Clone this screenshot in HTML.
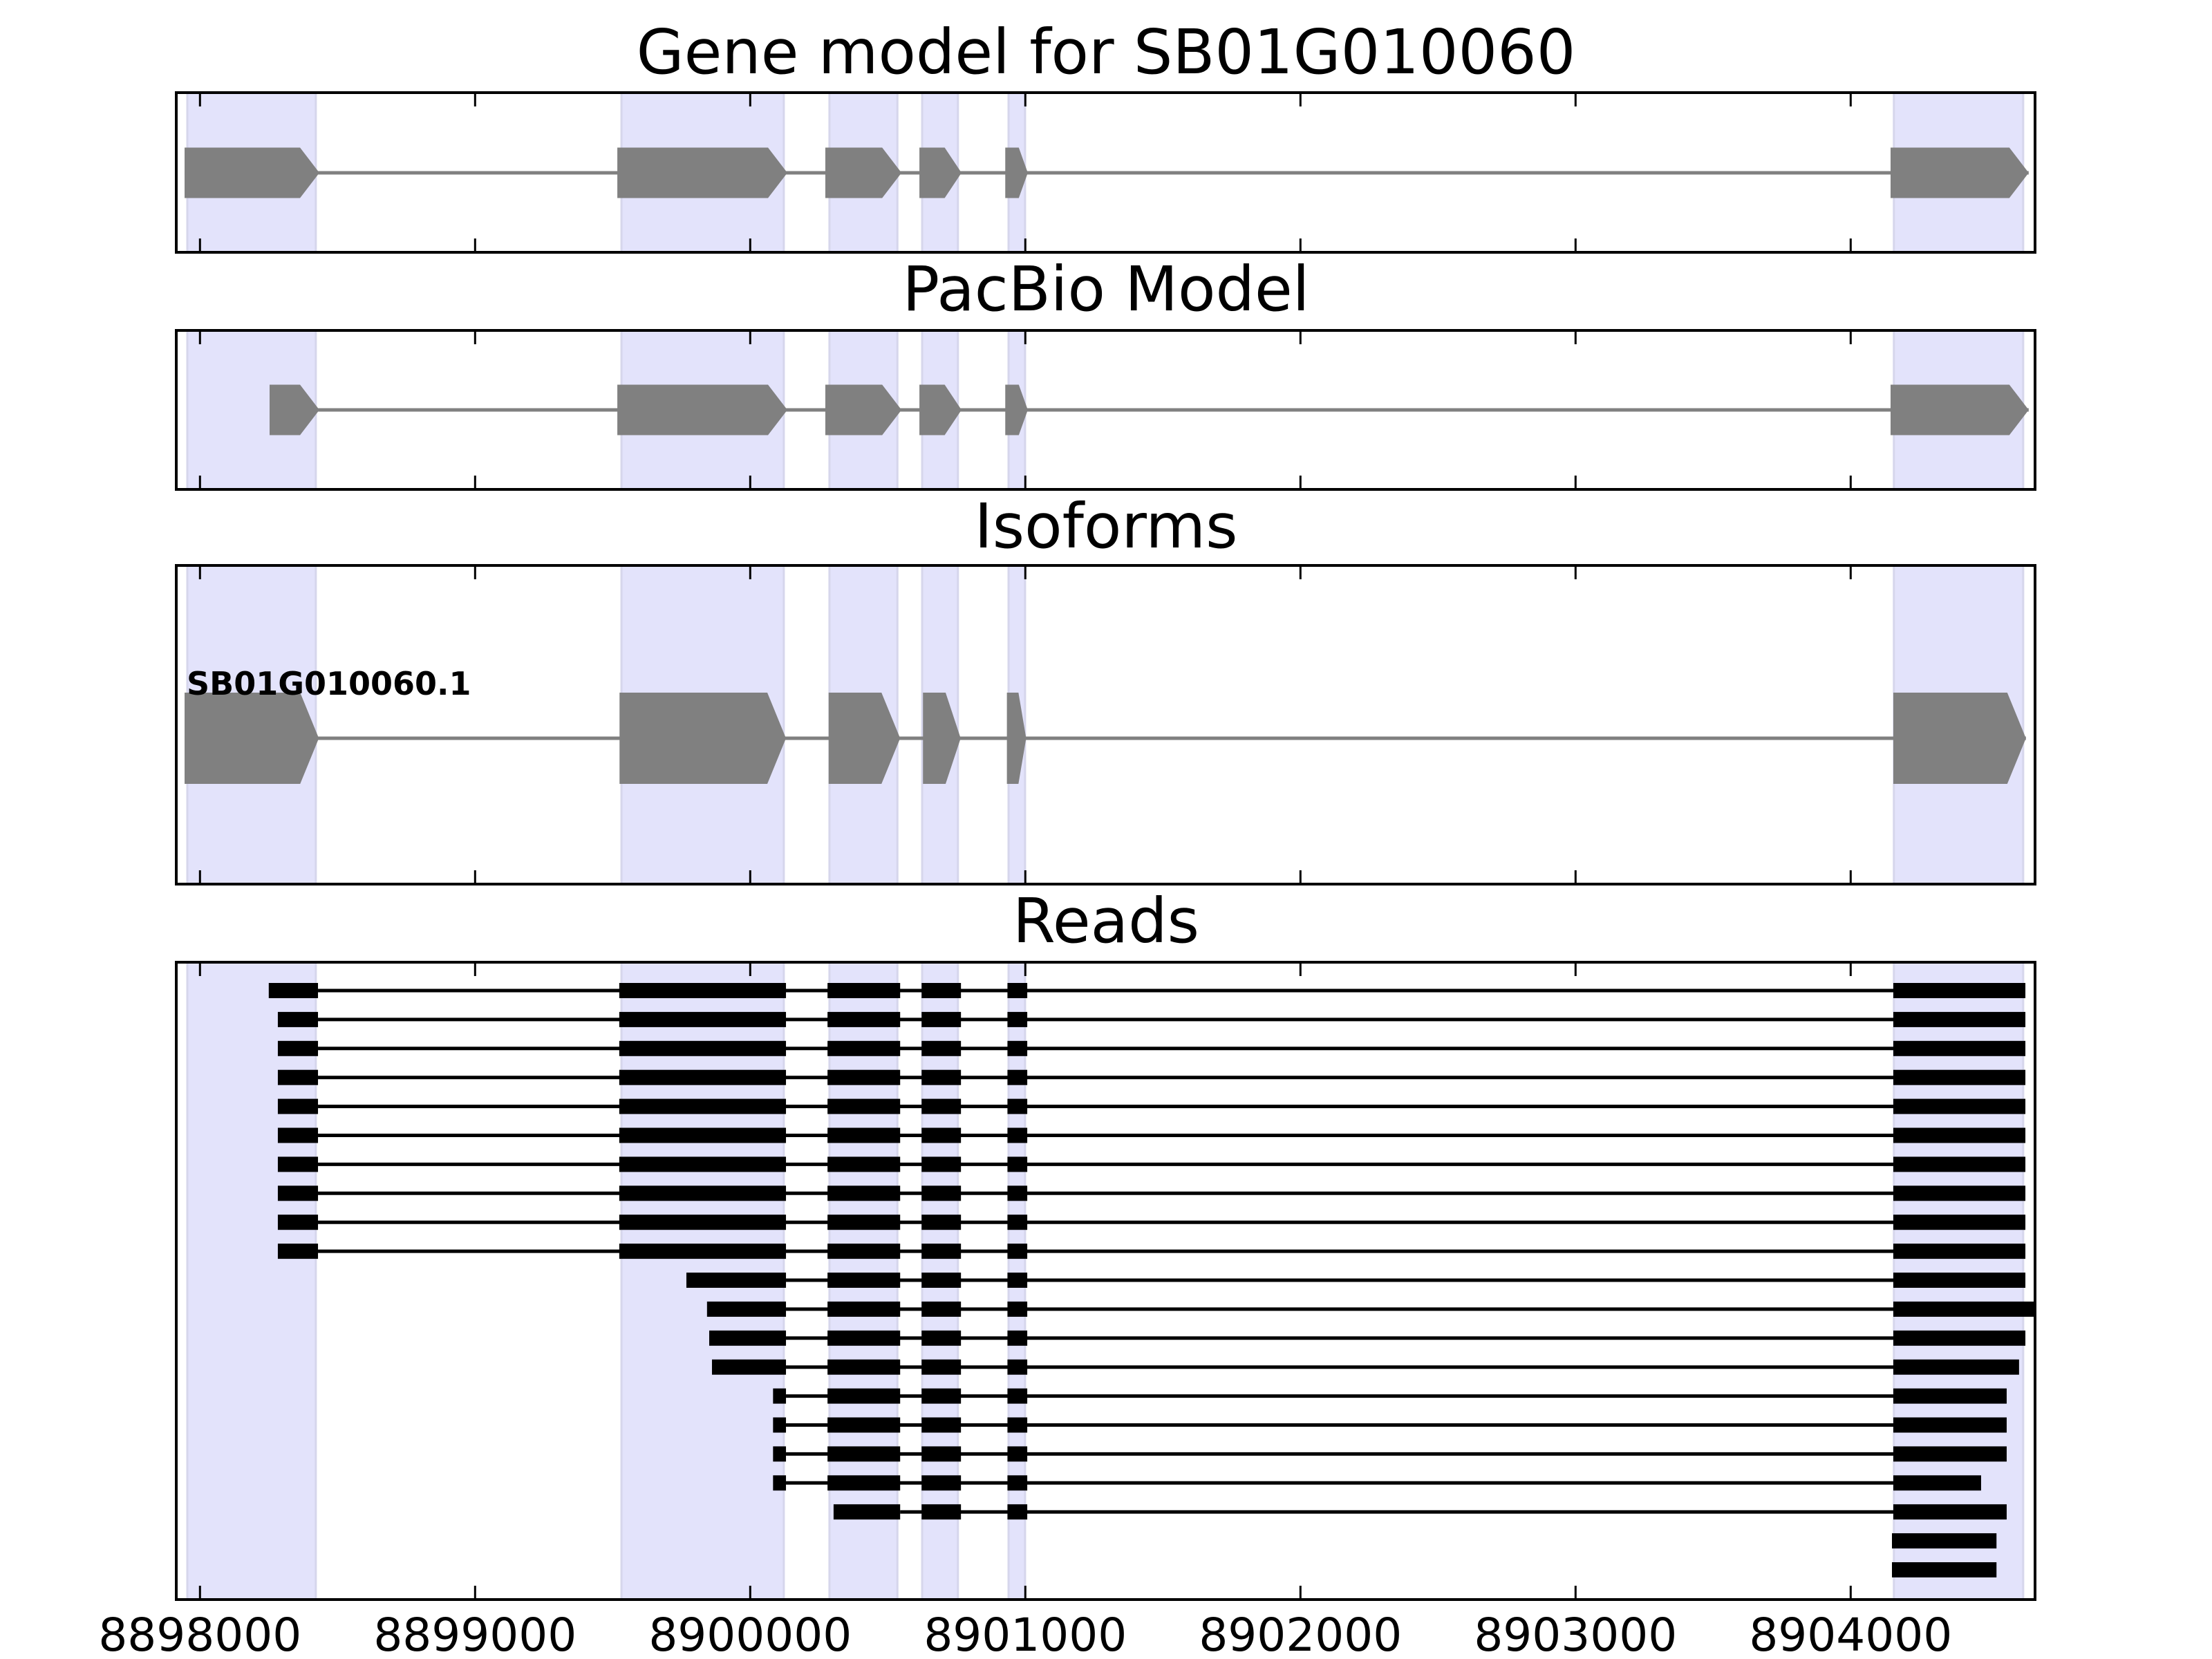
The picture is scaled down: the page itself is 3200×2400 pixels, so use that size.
<!DOCTYPE html>
<html><head><meta charset="utf-8">
<style>
html,body{margin:0;padding:0;background:#fff;}
svg{display:block;}
text{font-family:"DejaVu Sans","Liberation Sans",sans-serif;}
</style></head>
<body>
<svg id="fig" width="3200" height="2400" viewBox="0 0 3200 2400" xmlns="http://www.w3.org/2000/svg"></svg>
<script>
// ---- data ----
const tickValues = [8898000, 8899000, 8900000, 8901000, 8902000, 8903000, 8904000];
const tickLabels = ["8898000", "8899000", "8900000", "8901000", "8902000", "8903000", "8904000"];
const shadeStarts = [8897954, 8899532, 8900288, 8900625, 8900939, 8904157];
const shadeEnds   = [8898421, 8900122, 8900535, 8900755, 8900999, 8904627];
const geneExonStarts = [8897944, 8899517, 8900273, 8900615, 8900927, 8904145];
const geneExonEnds   = [8898434, 8900135, 8900550, 8900768, 8901009, 8904647];
const pacbioExonStarts = [8898253, 8899517, 8900273, 8900615, 8900927, 8904145];
const pacbioExonEnds   = [8898434, 8900135, 8900550, 8900768, 8901009, 8904647];
const isoExonStarts = [8897944, 8899525, 8900285, 8900628, 8900933, 8904155];
const isoExonEnds   = [8898432, 8900130, 8900545, 8900765, 8901003, 8904637];
const isoformName = "SB01G010060.1";
const fullTail = [[8899524,8900130],[8900281,8900545],[8900623,8900766],[8900935,8901007]];
const readFirstStarts = [8898250,8898283,8898283,8898283,8898283,8898283,8898283,8898283,8898283,8898283,
                         8899768,8899843,8899851,8899861,8900083,8900083,8900083,8900083];
const readLastEnds = [8904635,8904635,8904635,8904635,8904635,8904635,8904635,8904635,8904635,8904635,
                      8904635,8904672,8904635,8904612,8904567,8904567,8904567,8904474,8904567,8904530,8904530];
const lastExonStart = 8904155;
const row19Start = 8900303;
const row20Start = 8904150;
const titles = ["Gene model for SB01G010060", "PacBio Model", "Isoforms", "Reads"];

// ---- layout ----
const svg = document.getElementById('fig');
const NS = 'http://www.w3.org/2000/svg';
const X0 = 255, X1 = 2944;
const panels = [{t:134,b:365},{t:478,b:708},{t:818,b:1279},{t:1392,b:2314}];
const titleY = [106, 449, 792, 1363];
function xs(v){ return 289.3 + (v - 8898000) * 0.398; }
function el(tag, attrs, parent){
  const e = document.createElementNS(NS, tag);
  for (const k in attrs) e.setAttribute(k, attrs[k]);
  (parent || svg).appendChild(e);
  return e;
}

function shades(p, g){
  for (let i = 0; i < shadeStarts.length; i++){
    const r = el('rect', {x: xs(shadeStarts[i]), y: p.t, width: xs(shadeEnds[i]) - xs(shadeStarts[i]), height: p.b - p.t,
      fill: '#e3e3fb', stroke: '#d6d6ec', 'stroke-width': 3}, g);
    
    
  }
}
function frame(p, g, idx){
  tickValues.forEach((v) => {
    const x = xs(v);
    el('line', {x1:x, x2:x, y1:p.t, y2:p.t+20, stroke:'#000','stroke-width':3}, g);
    el('line', {x1:x, x2:x, y1:p.b, y2:p.b-20, stroke:'#000','stroke-width':3}, g);
  });
  const f = el('rect', {x:X0, y:p.t, width:X1-X0, height:p.b-p.t, fill:'none', stroke:'#000', 'stroke-width':4}, g);
  
  
  const t = el('text', {x:1600, y:titleY[idx], 'text-anchor':'middle', 'font-size':89, fill:'#000'}, g);
  t.textContent = titles[idx];
  
  
}
function geneTrack(g, starts, ends, cy, h, head){
  el('line', {x1: xs(starts[0]), x2: xs(ends[ends.length-1]), y1: cy, y2: cy, stroke:'#808080', 'stroke-width':5}, g);
  for (let i = 0; i < starts.length; i++){
    const a = xs(starts[i]), b = xs(ends[i]);
    const hl = Math.min(head, (b - a) * 0.4);
    const pts = [[a,cy-h/2],[b-hl,cy-h/2],[b,cy],[b-hl,cy+h/2],[a,cy+h/2]].map(q=>q.join(',')).join(' ');
    const poly = el('polygon', {points: pts, fill:'#808080'}, g);
    
    
  }
}

const g1 = el('g', {});  
shades(panels[0], g1); geneTrack(g1, geneExonStarts, geneExonEnds, 250, 73, 28); frame(panels[0], g1, 0);
const g2 = el('g', {});  
shades(panels[1], g2); geneTrack(g2, pacbioExonStarts, pacbioExonEnds, 593, 73, 28); frame(panels[1], g2, 1);
const g3 = el('g', {});  
shades(panels[2], g3); geneTrack(g3, isoExonStarts, isoExonEnds, 1068, 132, 27);
const lab = el('text', {x: 270, y: 1005, 'font-size': 46, 'font-weight': 'bold', fill:'#000'}, g3);
lab.textContent = isoformName;


frame(panels[2], g3, 2);

const g4 = el('g', {});  
shades(panels[3], g4);
const reads = [];
for (let r = 0; r < readLastEnds.length; r++){
  let ex = [];
  if (r < 10) ex = [[readFirstStarts[r], 8898429]].concat(fullTail);
  else if (r < 18) ex = [[readFirstStarts[r], 8900130]].concat(fullTail.slice(1));
  else if (r === 18) ex = [[row19Start, 8900545]].concat(fullTail.slice(2));
  else ex = [];
  const startLast = r >= 19 ? row20Start : lastExonStart;
  ex.push([startLast, readLastEnds[r]]);
  reads.push(ex);
}
reads.forEach((ex, r) => {
  const cy = 1433 + r * 41.9;
  const rg = el('g', {}, g4);
  
  
  if (ex.length > 1) el('line', {x1: xs(ex[0][1]), x2: xs(ex[ex.length-1][0]), y1: cy, y2: cy, stroke:'#000', 'stroke-width':5}, rg);
  ex.forEach(e => {
    const b = el('rect', {x: xs(e[0]), y: cy - 11, width: xs(e[1]) - xs(e[0]), height: 22, fill:'#000'}, rg);
    
    
  });
});
frame(panels[3], g4, 3);

tickValues.forEach((v, i) => {
  const t = el('text', {x: xs(v), y: 2388, 'text-anchor':'middle', 'font-size': 66, fill:'#000'});
  t.textContent = tickLabels[i];
  
  
});
</script>
</body></html>
